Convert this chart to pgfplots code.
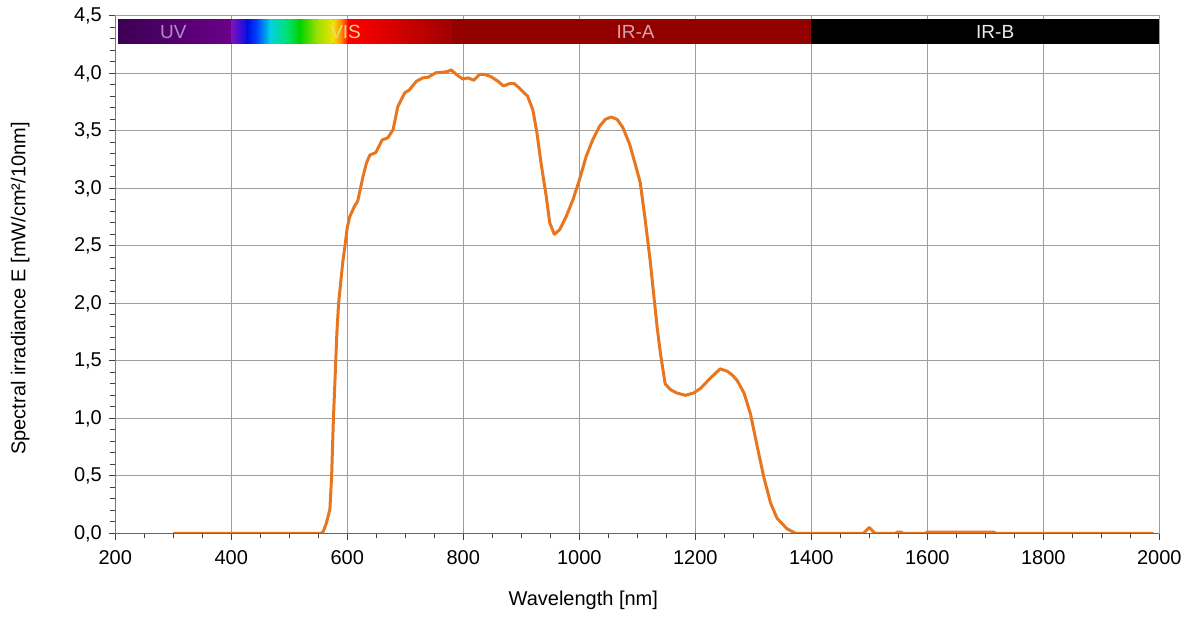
\documentclass[border=0pt]{standalone}
\usepackage{fontspec}
\setmainfont{Liberation Sans}
\usepackage{pgfplots}
\pgfplotsset{compat=1.18}

\definecolor{curve}{HTML}{E8761F}
\definecolor{gridc}{HTML}{9E9E9E}
\definecolor{uvA}{HTML}{3C0052}
\definecolor{uvB}{HTML}{6C008A}
\definecolor{irA}{HTML}{920000}
\definecolor{uvtxt}{HTML}{B08CC8}
\definecolor{vistxt}{HTML}{F2D48A}
\definecolor{iratxt}{HTML}{D8A4A4}

\begin{document}
\begin{tikzpicture}
\begin{axis}[
  scale only axis,
  width=522pt, height=258.75pt,
  xmin=200, xmax=2000, ymin=0, ymax=4.5,
  xtick={200,400,...,2000},
  ytick={0,0.5,1,1.5,2,2.5,3,3.5,4,4.5},
  minor x tick num=3,
  minor y tick num=4,
  grid=major,
  major grid style={gridc, line width=0.5pt},
  tick align=outside,
  tick pos=left,
  major tick length=3.2pt,
  minor tick length=2.5pt,
  tick style={black!75, line width=0.5pt},
  axis line style={gridc, line width=0.6pt},
  tick label style={font=\fontsize{10}{12}\selectfont},
  /pgf/number format/assume math mode=true,
  yticklabel style={/pgf/number format/.cd, use comma, fixed, fixed zerofill, precision=1},
  xticklabel style={yshift=-1.8pt, /pgf/number format/.cd, 1000 sep={}},
]
% spectral band
\fill[left color=uvA, right color=uvB] (axis cs:205,4.255) rectangle (axis cs:400,4.47);
\fill[left color={rgb,255:red,128;green,16;blue,192}, right color={rgb,255:red,0;green,16;blue,224}] (axis cs:400,4.255) rectangle (axis cs:428,4.47);
\fill[left color={rgb,255:red,0;green,16;blue,224}, right color={rgb,255:red,0;green,64;blue,255}] (axis cs:428,4.255) rectangle (axis cs:443,4.47);
\fill[left color={rgb,255:red,0;green,64;blue,255}, right color={rgb,255:red,0;green,210;blue,225}] (axis cs:443,4.255) rectangle (axis cs:467,4.47);
\fill[left color={rgb,255:red,0;green,210;blue,225}, right color={rgb,255:red,0;green,225;blue,120}] (axis cs:467,4.255) rectangle (axis cs:495,4.47);
\fill[left color={rgb,255:red,0;green,225;blue,120}, right color={rgb,255:red,0;green,210;blue,0}] (axis cs:495,4.255) rectangle (axis cs:518,4.47);
\fill[left color={rgb,255:red,0;green,210;blue,0}, right color={rgb,255:red,150;green,225;blue,0}] (axis cs:518,4.255) rectangle (axis cs:547,4.47);
\fill[left color={rgb,255:red,150;green,225;blue,0}, right color={rgb,255:red,240;green,225;blue,0}] (axis cs:547,4.255) rectangle (axis cs:576,4.47);
\fill[left color={rgb,255:red,240;green,225;blue,0}, right color={rgb,255:red,255;green,140;blue,0}] (axis cs:576,4.255) rectangle (axis cs:589,4.47);
\fill[left color={rgb,255:red,255;green,140;blue,0}, right color={rgb,255:red,255;green,0;blue,0}] (axis cs:589,4.255) rectangle (axis cs:602,4.47);
\fill[left color={rgb,255:red,255;green,0;blue,0}, right color={rgb,255:red,208;green,0;blue,0}] (axis cs:602,4.255) rectangle (axis cs:691,4.47);
\fill[left color={rgb,255:red,208;green,0;blue,0}, right color={rgb,255:red,160;green,0;blue,0}] (axis cs:691,4.255) rectangle (axis cs:780,4.47);
\fill[irA] (axis cs:780,4.255) rectangle (axis cs:1400,4.47);
\fill[black] (axis cs:1400,4.255) rectangle (axis cs:2000,4.47);
\draw[black!80, line width=0.5pt] (axis cs:780,4.255) -- (axis cs:780,4.47);
\node[text=uvtxt, font=\fontsize{9.5}{11}\selectfont] at (axis cs:300,4.36) {UV};
\node[text=vistxt, font=\fontsize{9.5}{11}\selectfont] at (axis cs:597,4.36) {VIS};
\node[text=iratxt, font=\fontsize{9.5}{11}\selectfont] at (axis cs:1097,4.36) {IR-A};
\node[text=white!92!black, font=\fontsize{9.5}{11}\selectfont] at (axis cs:1717,4.36) {IR-B};

\addplot[curve, line width=1.5pt, line join=round] coordinates {
 (300,0) (555,0) (559,0.02) (564,0.09) (570,0.21) (573,0.5) (576,0.99)
 (579,1.36) (582,1.74) (585,2.0) (588,2.15) (592,2.35) (596,2.5) (600,2.66)
 (604,2.75) (612,2.84) (618,2.89) (627,3.10) (633,3.22) (639,3.29) (649,3.31)
 (660,3.42) (670,3.44) (679,3.51) (687,3.71) (699,3.83) (707,3.855) (719,3.93)
 (730,3.96) (739,3.965) (753,4.005) (765,4.01) (773,4.015) (779,4.03) (788,3.99)
 (799,3.95) (808,3.96) (818,3.94) (828,3.99) (837,3.99) (848,3.97) (860,3.93)
 (869,3.89) (880,3.91) (888,3.91) (897,3.87) (911,3.80) (920,3.68) (927,3.48)
 (934,3.22) (943,2.93) (949,2.70) (957,2.60) (966,2.64) (977,2.75) (989,2.90)
 (1000,3.07) (1012,3.28) (1023,3.42) (1035,3.54) (1045,3.60) (1055,3.62)
 (1065,3.60) (1075,3.53) (1087,3.38) (1097,3.20) (1105,3.05) (1113,2.75)
 (1122,2.38) (1128,2.09) (1134,1.80) (1140,1.56) (1148,1.30) (1157,1.25)
 (1168,1.22) (1183,1.20) (1197,1.22) (1209,1.26) (1226,1.35) (1243,1.43)
 (1255,1.41) (1265,1.37) (1272,1.33) (1284,1.22) (1295,1.04) (1307,0.75)
 (1318,0.49) (1330,0.26) (1341,0.13) (1358,0.04) (1373,0) (1490,0)
 (1500,0.05) (1510,0) (1545,0) (1548,0.01) (1555,0.01) (1558,0) (1596,0)
 (1600,0.01) (1715,0.01) (1718,0) (1990,0)
};
\draw[black!60, line width=0.6pt] (rel axis cs:0,1) -- (rel axis cs:0,0) -- (rel axis cs:1,0);
\end{axis}
\node[rotate=90, font=\fontsize{10}{12}\selectfont] at ([shift={(-47.6pt,122.4pt)}]current axis.south west) {Spectral irradiance E [mW/cm²/10nm]};
\node[font=\fontsize{10}{12}\selectfont] at ([shift={(234pt,-33.5pt)}]current axis.south west) {Wavelength [nm]};
\pgfresetboundingbox
\path ([shift={(-57.65pt,-41.35pt)}]current axis.south west) rectangle ([shift={(15.85pt,7.9pt)}]current axis.north east);
\end{tikzpicture}
\end{document}
